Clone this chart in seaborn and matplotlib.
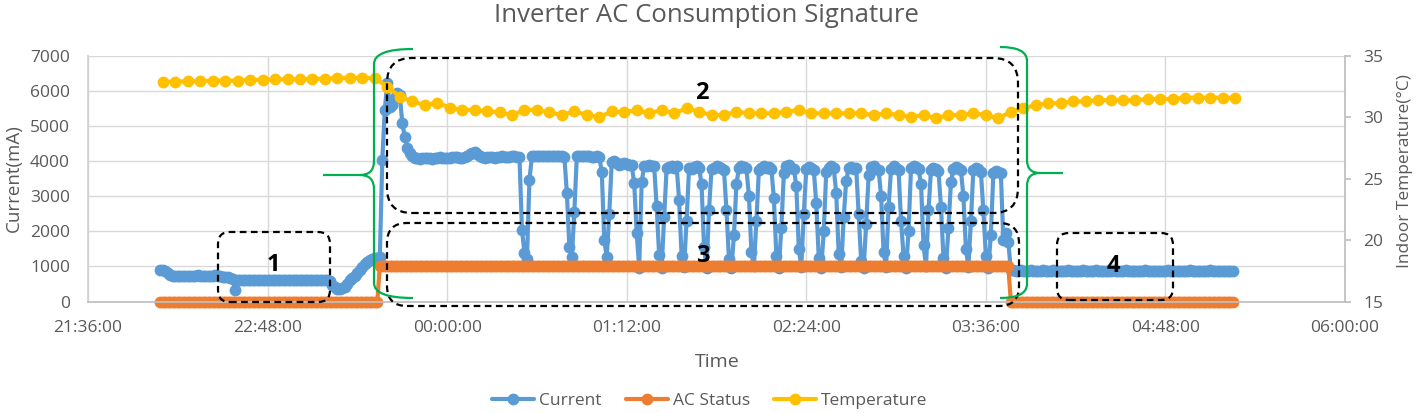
import matplotlib
matplotlib.use("Agg")
import matplotlib.pyplot as plt
from matplotlib.patches import FancyBboxPatch, PathPatch
from matplotlib.path import Path
from matplotlib.transforms import Affine2D
import numpy as np
import pandas as pd
import seaborn as sns

# Clock times of the logged night (readings run past midnight)
current_start = "22:05"
ac_on_time = "23:33"
ac_off_time = "03:46"
temperature_start = "22:06"

# Current readings, one per minute (mA)
current_before_ac = [
    900, 890, 860, 800, 760,
    740, 730, 730, 720, 730, 740, 730, 730, 720, 730,
    760, 740, 730, 730, 720, 730, 740, 760, 740, 720,
    700, 690, 690, 680,
    640, 330, 610,
    600, 610, 600, 600, 600, 600, 610, 600, 600, 600,
    600, 600, 600, 600, 610, 600, 600, 600, 600, 600,
    600, 600, 600, 600, 600, 610, 600, 600, 600, 600,
    600, 600, 600, 600, 600, 600, 590,
    480, 400, 370, 360, 380, 420, 500, 610, 680, 740,
    800, 900, 990, 1060, 1130, 1190, 1210, 1240, 1250,
]
current_ac_on = [
    1260, 4040, 5470, 6240, 5560, 5600, 5800, 5950, 5900, 5100, 4700, 4390, 4240, 4150,
    4100, 4080, 4070, 4080, 4100, 4090, 4080, 4070, 4090, 4100,
    4120, 4100, 4080, 4100, 4090, 4110, 4130, 4120, 4100, 4090,
    4120, 4150, 4200, 4230, 4250, 4200, 4150, 4120, 4100, 4110,
    4130, 4120, 4100, 4110, 4130, 4140, 4120, 4110, 4130, 4150,
    4140, 4120, 4130,
    2040, 1390, 1200, 3470,
    4150, 4160, 4140, 4150, 4160, 4150, 4140, 4150, 4160, 4150, 4140, 4150, 4140, 4130,
    3100, 1560, 1270, 2560,
    4150, 4160, 4150, 4140, 4150, 4140, 4120, 4130, 4140, 4120,
    3700, 1760, 1270, 2500,
    3990, 4000, 3950, 3900, 3930, 3950, 3920, 3900, 3880,
    3380, 1950, 960, 3410,
    3850, 3870, 3880, 3850, 3860,
    2710, 1330, 960, 2410,
    3810, 3830, 3850, 3820, 3870,
    2900, 1300, 980, 2300,
    3800, 3790, 3830, 3850, 3820,
    3350, 1550, 950, 2600,
    3780, 3820, 3850, 3830, 3800, 3750,
    2600, 1200, 950, 1900,
    3350, 3820, 3870, 3840, 3800,
    3000, 1400, 1000, 2300,
    3760, 3800, 3850, 3820, 3840, 3780,
    2950, 1300, 960, 2100,
    3650, 3860, 3880, 3820, 3790,
    3300, 1500, 980, 2500,
    3780, 3840, 3810, 3760,
    2800, 1250, 950, 2000,
    3700, 3820, 3850, 3800,
    3100, 1350, 970, 2400,
    3450, 3800, 3840, 3790, 3820,
    2500, 1150, 950, 2200,
    3600, 3830, 3860, 3790, 3760,
    3000, 1400, 980, 2700,
    3780, 3850, 3820, 3740,
    2300, 1300, 950, 2000,
    3820, 3870, 3840, 3780,
    3350, 1600, 1000, 2600,
    3750, 3810, 3790, 3720,
    2700, 1250, 950, 2100,
    3400, 3780, 3830, 3800, 3740,
    3000, 1500, 980, 2300,
    3760, 3800, 3780, 3700,
    2600, 1300, 960, 1900,
    3650, 3720, 3700, 3670,
    1760, 1950, 1700,
]
current_after_ac = [
    900, 890, 880, 880, 890, 880, 880, 880, 890, 880, 880, 880, 880, 890, 880,
    880, 880, 890, 880, 880, 880, 880, 880, 890, 880, 880, 880, 880, 880, 890,
    880, 880, 880, 880, 890, 880, 880, 880, 880, 880, 880, 890, 880, 880, 880,
    880, 890, 880, 880, 880, 880, 880, 880, 880, 890, 880, 880, 880, 880, 880,
    880, 880, 880, 890, 880, 880, 880, 880, 880, 880, 880, 880, 890, 880, 880,
    880, 880, 880, 880, 880, 890, 880, 880, 880, 880, 880, 880, 880, 880, 880,
]

# AC status as (value, minutes) runs
ac_status_runs = [(0, 88), (1000, 253), (0, 90)]

# Indoor temperature, one reading every 5 minutes (deg C)
temperature_c = [
    32.9, 32.9, 32.95, 32.95, 33.0, 33.0, 33.0, 33.05, 33.05, 33.1, 33.1, 33.1, 33.15, 33.15,
    33.2, 33.2, 33.2, 33.2,
    32.5, 31.7, 31.3, 31.0, 31.2, 30.8, 30.6, 30.6, 30.5, 30.4, 30.2, 30.6, 30.6, 30.4,
    30.2, 30.5, 30.2, 30.0, 30.5, 30.4, 30.6,
    30.33, 30.6, 30.33, 30.74, 30.46, 30.19, 30.19, 30.46, 30.33, 30.33, 30.33, 30.46,
    30.6, 30.33, 30.33, 30.33, 30.33, 30.33, 30.19, 30.33, 30.19, 30.06, 30.19, 29.92,
    30.19, 30.19, 30.33, 30.19, 29.92, 30.46, 30.74,
    31.0, 31.15, 31.15, 31.3, 31.3, 31.4, 31.4, 31.4, 31.4, 31.5, 31.5, 31.5, 31.6, 31.6,
    31.6, 31.6, 31.6,
]

time_tick_labels = ["21:36:00", "22:48:00", "00:00:00", "01:12:00",
                    "02:24:00", "03:36:00", "04:48:00", "06:00:00"]
current_ticks = [0, 1000, 2000, 3000, 4000, 5000, 6000, 7000]
temperature_ticks = [15, 20, 25, 30, 35]


def clock(s):
    # evening times on day 1, early-morning times on day 2
    t = pd.Timestamp("2021-01-01 " + s)
    if t.hour < 12:
        t += pd.Timedelta(days=1)
    return t


current_times = pd.DatetimeIndex(list(
    pd.date_range(clock(current_start), periods=len(current_before_ac), freq="min"))
    + list(pd.date_range(clock(ac_on_time), periods=len(current_ac_on), freq="min"))
    + list(pd.date_range(clock(ac_off_time), periods=len(current_after_ac), freq="min")))
current_df = pd.DataFrame({
    "Time": current_times,
    "Current": current_before_ac + current_ac_on + current_after_ac,
    "AC Status": np.repeat([v for v, n in ac_status_runs], [n for v, n in ac_status_runs]),
})
temp_df = pd.DataFrame({
    "Time": pd.date_range(clock(temperature_start), periods=len(temperature_c), freq="5min"),
    "Temperature": temperature_c,
})

sns.set_theme(style="white")
plt.rcParams["font.family"] = ["Open Sans", "DejaVu Sans"]

W, H, DPI = 1416, 413, 100
fig = plt.figure(figsize=(W / DPI, H / DPI), dpi=DPI)
px = Affine2D().scale(1 / DPI) + fig.dpi_scale_trans  # figure pixels, origin bottom-left

ax = fig.add_axes([88 / W, 1 - 301.5 / H, (1345 - 88) / W, (301.5 - 56) / H])
ax2 = ax.twinx()

text_grey = "#595959"
# Excel-style lines: markers are not clipped at the axis edge
line_kw = dict(marker="o", markersize=8.5, markeredgewidth=0, linewidth=3,
               legend=False, clip_on=False)
sns.lineplot(data=current_df, x="Time", y="Current", ax=ax, color="#5B9BD5", label="Current", **line_kw)
sns.lineplot(data=current_df, x="Time", y="AC Status", ax=ax, color="#ED7D31", label="AC Status", **line_kw)
sns.lineplot(data=temp_df, x="Time", y="Temperature", ax=ax2, color="#FFC000", label="Temperature", **line_kw)

tick_times = [clock(s[:5]) for s in time_tick_labels]
ax.set_xlim(tick_times[0], tick_times[-1])
ax.set_xticks(tick_times)
ax.set_xticklabels(time_tick_labels)
ax.set_ylim(current_ticks[0], current_ticks[-1])
ax.set_yticks(current_ticks)
ax2.set_ylim(temperature_ticks[0], temperature_ticks[-1])
ax2.set_yticks(temperature_ticks)

ax.grid(True, color="#D9D9D9", linewidth=1)
ax2.grid(False)
ax.set_xlabel("")
ax.set_ylabel("")
ax2.set_ylabel("")
for a in (ax, ax2):
    for side in ("top", "right", "left", "bottom"):
        a.spines[side].set_visible(False)
ax.spines["left"].set_visible(True)
ax.spines["bottom"].set_visible(True)
ax.spines["left"].set_color("#D0D0D0")
ax.spines["bottom"].set_color("#BFBFBF")
ax2.spines["right"].set_visible(True)
ax2.spines["right"].set_color("#BFBFBF")
ax.tick_params(axis="both", length=0, labelsize=12.5, labelcolor=text_grey)
ax.tick_params(axis="x", pad=13)
ax.tick_params(axis="y", pad=13)
ax2.tick_params(axis="y", length=4, color="#BFBFBF", direction="out", pad=9,
                labelsize=12.5, labelcolor=text_grey)

fig.text(706, H - 22, "Inverter AC Consumption Signature", transform=px,
         ha="center", va="baseline", fontsize=18.5, color=text_grey)
fig.text(14, H - 178, "Current(mA)", transform=px, rotation=90,
         ha="center", va="center", fontsize=13.5, color=text_grey)
fig.text(1405, H - 171, "Indoor Temperature(°C)", transform=px, rotation=90,
         ha="center", va="center", fontsize=12.5, color=text_grey)
fig.text(717, H - 367, "Time", transform=px, ha="center", va="baseline",
         fontsize=14, color=text_grey)

handles, labels = ax.get_legend_handles_labels()
h2, l2 = ax2.get_legend_handles_labels()
fig.legend(handles + h2, labels + l2, loc="center", bbox_to_anchor=(710, H - 401),
           bbox_transform=px, ncol=3, frameon=False, fontsize=12.5,
           handlelength=2.4, handletextpad=0.3, columnspacing=1.4,
           labelcolor=text_grey)


# Dashed rounded boxes marking the phases (pixel positions, top-left origin)
def dashed_box(x0, y0, x1, y1, r):
    fig.add_artist(FancyBboxPatch((x0, H - y1), x1 - x0, y1 - y0,
                                  boxstyle=f"round,pad=0,rounding_size={r}",
                                  transform=px, fill=False, ec="black",
                                  lw=1.6, ls=(0, (3, 2))))


dashed_box(218, 232, 330, 302, 12)
dashed_box(387, 58, 1018, 213, 25)
dashed_box(387, 223, 1019, 306, 20)
dashed_box(1057, 233, 1173, 300, 12)
for label, x, y in [("1", 273, 265), ("2", 702, 93), ("3", 703, 256), ("4", 1113, 266)]:
    fig.text(x, H - y, label, transform=px, ha="center", va="center",
             fontsize=17, fontweight="bold", color="black")


# Green braces around the AC-on period
def brace(points):
    codes, verts = [], []
    for code, pts in points:
        for p in pts:
            codes.append(code)
            verts.append((p[0], H - p[1]))
    fig.add_artist(PathPatch(Path(verts, codes), transform=px, fill=False,
                             ec="#00B050", lw=1.6))


M, L, C = Path.MOVETO, Path.LINETO, Path.CURVE3
brace([(M, [(323, 175)]), (L, [(360, 175)]), (C, [(374, 175), (374, 161)]),
       (L, [(374, 64)]), (C, [(374, 49), (413, 49)]),
       (M, [(360, 175)]), (C, [(374, 175), (374, 189)]),
       (L, [(374, 283)]), (C, [(374, 298), (413, 298)])])
brace([(M, [(1063, 173)]), (L, [(1040, 173)]), (C, [(1027, 173), (1027, 160)]),
       (L, [(1027, 61)]), (C, [(1027, 47), (1000, 47)]),
       (M, [(1040, 173)]), (C, [(1027, 173), (1027, 186)]),
       (L, [(1027, 284)]), (C, [(1027, 298), (1000, 298)])])

fig.savefig("out.png", dpi=DPI)
